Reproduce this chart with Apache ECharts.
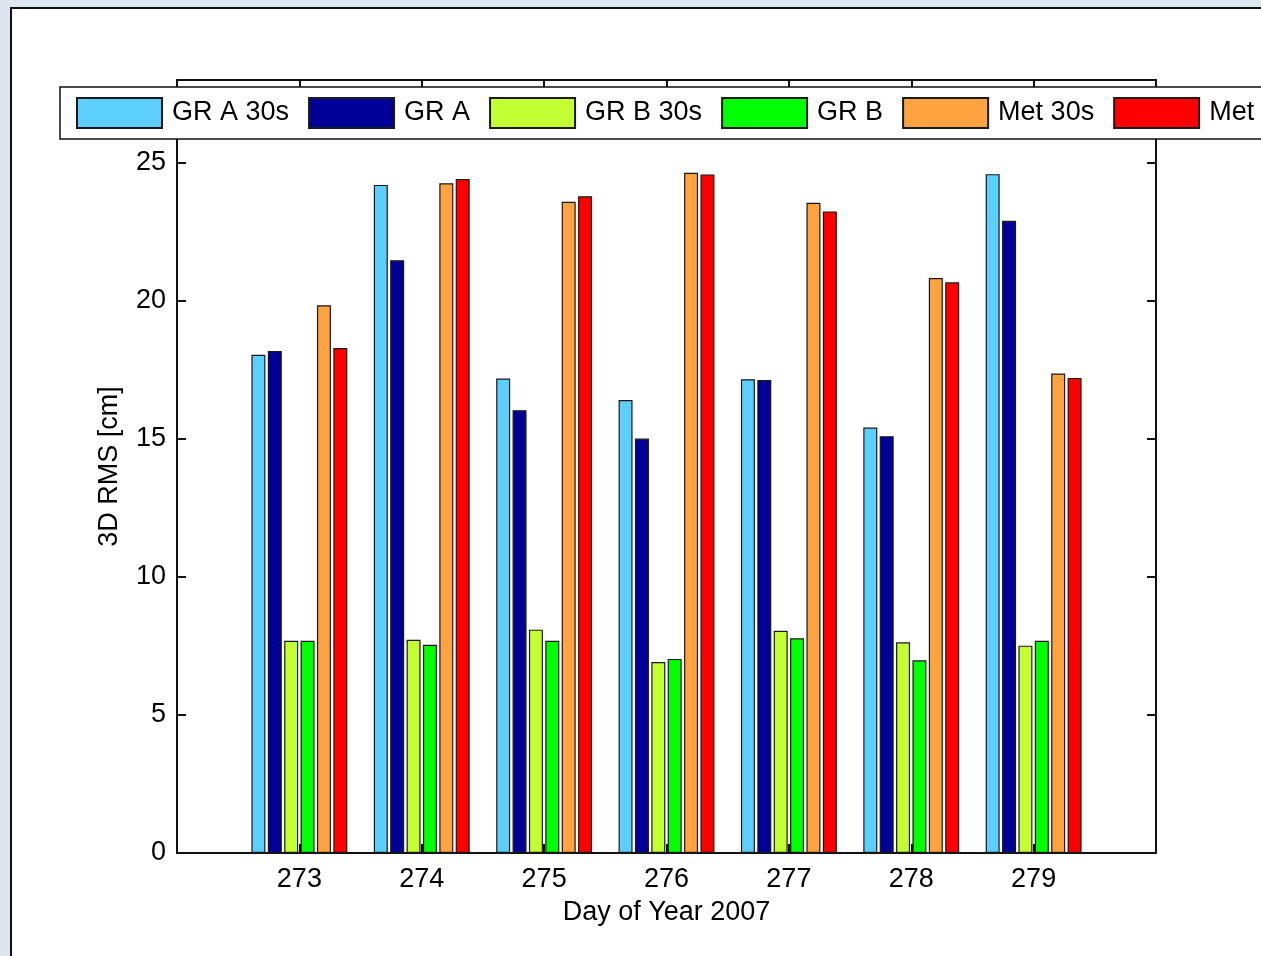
<!DOCTYPE html>
<html>
<head>
<meta charset="utf-8">
<script src="https://cdn.jsdelivr.net/npm/echarts@6/dist/echarts.min.js"></script>
<style>
  html, body { margin: 0; padding: 0; overflow: hidden; background: #dfe5ee; }
  #frame {
    position: absolute; left: 10px; top: 7px; width: 1400px; height: 1000px;
    background: #fff; border-left: 2px solid #111; border-top: 2px solid #111;
  }
  #chart { position: absolute; left: 0; top: 0; width: 1400px; height: 956px; }
</style>
</head>
<body>
<div id="frame"></div>
<div id="chart"></div>
<script>
// day of year 2007
const days = [273, 274, 275, 276, 277, 278, 279];
const yTicks = [0, 5, 10, 15, 20, 25];

// 3D RMS [cm] per day
const grA30s = [18.05, 24.2, 17.19, 16.41, 17.16, 15.41, 24.59];
const grA = [18.18, 21.47, 16.04, 15.01, 17.13, 15.1, 22.9];
const grB30s = [7.69, 7.72, 8.09, 6.92, 8.05, 7.63, 7.51];
const grB = [7.69, 7.54, 7.69, 7.03, 7.78, 6.98, 7.69];
const met30s = [19.84, 24.26, 23.59, 24.64, 23.55, 20.83, 17.37];
const met = [18.29, 24.41, 23.79, 24.58, 23.24, 20.67, 17.21];

const seriesNames = ["GR A 30s", "GR A", "GR B 30s", "GR B", "Met 30s", "Met"];
const seriesValues = [grA30s, grA, grB30s, grB, met30s, met];
const colors = ["#5ccfff", "#000099", "#c3ff33", "#00ff00", "#ffa240", "#ff0000"];

const font = "Liberation Sans";
const axisColor = "#111";

const myChart = echarts.init(document.getElementById("chart"));

const lineStyle = { color: axisColor, width: 2 };

// chart is wider than the window so the legend can run off the right edge
const option = {
  animation: false,
  textStyle: { fontFamily: font },
  grid: { left: 177, top: 80, right: 1400 - 1156, bottom: 103 },
  legend: {
    left: 60,
    top: 87,
    padding: [10, 30, 10, 16],
    itemWidth: 85,
    itemHeight: 30,
    itemGap: 19,
    icon: "rect",
    backgroundColor: "#fff",
    borderColor: axisColor,
    borderWidth: 1.5,
    borderRadius: 0,
    textStyle: { fontSize: 27, color: "#000", fontFamily: font, padding: [0, 0, 0, 5] },
    data: seriesNames,
  },
  xAxis: [
    {
      type: "value",
      min: 272,
      max: 280,
      name: "Day of Year 2007",
      nameLocation: "middle",
      nameGap: 46,
      nameTextStyle: { fontSize: 27, color: "#000", fontFamily: font },
      axisLine: { show: true, onZero: false, lineStyle: lineStyle },
      axisTick: { show: true, inside: true, length: 9, customValues: days, lineStyle: lineStyle },
      axisLabel: { fontSize: 27, color: "#000", margin: 13, customValues: days },
      splitLine: { show: false },
    },
    {
      type: "value",
      position: "top",
      min: 272,
      max: 280,
      axisLine: { show: true, onZero: false, lineStyle: lineStyle },
      axisTick: { show: true, inside: true, length: 9, customValues: days, lineStyle: lineStyle },
      axisLabel: { show: false },
      splitLine: { show: false },
    },
  ],
  yAxis: [
    {
      type: "value",
      min: 0,
      max: 28,
      name: "3D RMS [cm]",
      nameLocation: "middle",
      nameGap: 54,
      nameTextStyle: { fontSize: 27, color: "#000", fontFamily: font },
      axisLine: { show: true, onZero: false, lineStyle: lineStyle },
      axisTick: { show: true, inside: true, length: 9, customValues: yTicks, lineStyle: lineStyle },
      axisLabel: { fontSize: 27, color: "#000", margin: 11, customValues: yTicks },
      splitLine: { show: false },
    },
    {
      type: "value",
      position: "right",
      min: 0,
      max: 28,
      axisLine: { show: true, onZero: false, lineStyle: lineStyle },
      axisTick: { show: true, inside: true, length: 9, customValues: yTicks, lineStyle: lineStyle },
      axisLabel: { show: false },
      splitLine: { show: false },
    },
  ],
  series: seriesNames.map(function (name, i) {
    return {
      name: name,
      type: "bar",
      xAxisIndex: 0,
      yAxisIndex: 0,
      barWidth: 14,
      barGap: "17%",
      itemStyle: { color: colors[i], borderColor: "#1a1a1a", borderWidth: 1.2 },
      data: days.map(function (d, j) {
        return [d, seriesValues[i][j]];
      }),
    };
  }),
};

myChart.setOption(option);
window.onresize = myChart.resize;
</script>
</body>
</html>
